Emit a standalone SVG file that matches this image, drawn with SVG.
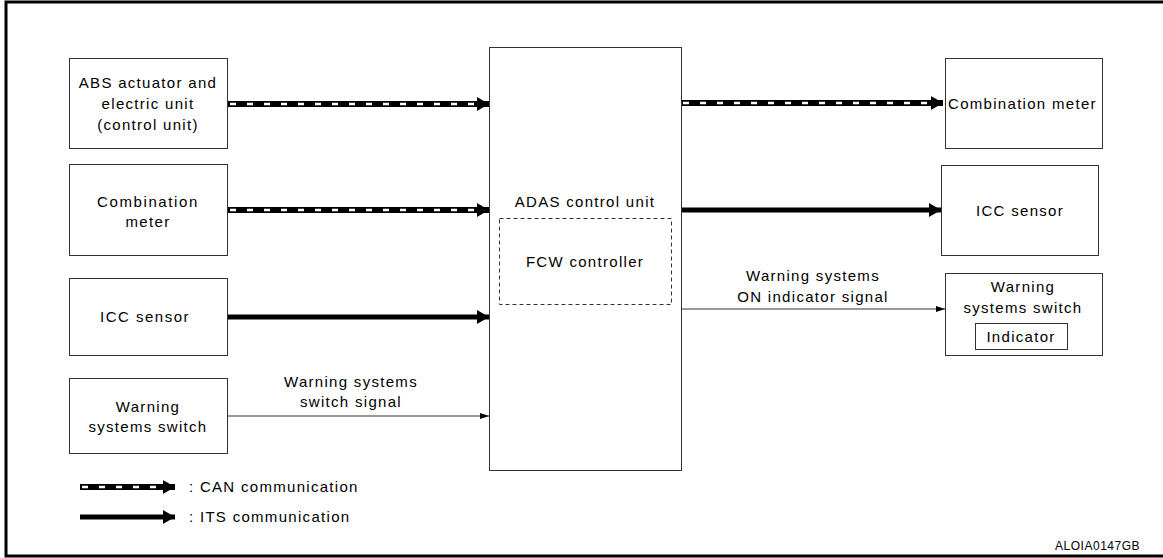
<svg xmlns="http://www.w3.org/2000/svg" width="1163" height="558" viewBox="0 0 1163 558">
<defs>
<style>
text{font-family:"Liberation Sans",Arial,sans-serif;font-size:15px;letter-spacing:1.3px;fill:#000}
.c{text-anchor:middle}
.box{fill:#fff;stroke:#333;stroke-width:1}
.can{stroke:#000;stroke-width:6;fill:none}
.canw{stroke:#fff;stroke-width:2.5;stroke-dasharray:6 11;fill:none}
.its{stroke:#000;stroke-width:5;fill:none}
.thin{stroke:#333;stroke-width:1;fill:none}
</style>
<marker id="big" viewBox="0 0 12 14" refX="12" refY="7" markerWidth="12" markerHeight="14" markerUnits="userSpaceOnUse" orient="auto">
<path d="M0,0 L12,7 L0,14 Z" fill="#000"/>
</marker>
<marker id="small" viewBox="0 0 9 6" refX="9" refY="3" markerWidth="9" markerHeight="6" markerUnits="userSpaceOnUse" orient="auto">
<path d="M0,0 L9,3 L0,6 Z" fill="#000"/>
</marker>
</defs>
<rect x="0" y="0" width="1163" height="558" fill="#fff"/>
<rect x="6" y="2" width="1170" height="554" fill="none" stroke="#000" stroke-width="3"/>

<g id="abs">
<rect class="box" x="69.5" y="58.5" width="158" height="90"/>
<text class="c" x="148" y="88">ABS actuator and</text>
<text class="c" x="148" y="109">electric unit</text>
<text class="c" x="148" y="130">(control unit)</text>
</g>
<g id="combo-left">
<rect class="box" x="69.5" y="164.5" width="158" height="91"/>
<text class="c" x="148" y="207" style="letter-spacing:1.6px">Combination</text>
<text class="c" x="148" y="227">meter</text>
</g>
<g id="icc-left">
<rect class="box" x="69.5" y="278.5" width="158" height="77"/>
<text class="c" x="145" y="322" style="letter-spacing:1.5px">ICC sensor</text>
</g>
<g id="ws-left">
<rect class="box" x="69.5" y="378.5" width="158" height="75"/>
<text class="c" x="148" y="412">Warning</text>
<text class="c" x="148" y="432">systems switch</text>
</g>
<g id="adas">
<rect class="box" x="489.5" y="47.5" width="192" height="423"/>
<text class="c" x="585" y="207">ADAS control unit</text>
<rect x="499.5" y="218.5" width="172" height="86" fill="none" stroke="#333" stroke-width="1" stroke-dasharray="4 3"/>
<text class="c" x="585" y="267">FCW controller</text>
</g>
<g id="combo-right">
<rect class="box" x="945.5" y="58.5" width="157" height="90"/>
<text x="948" y="109">Combination meter</text>
</g>
<g id="icc-right">
<rect class="box" x="941.5" y="165.5" width="157" height="90"/>
<text class="c" x="1020" y="216">ICC sensor</text>
</g>
<g id="ws-right">
<rect class="box" x="945.5" y="273.5" width="157" height="82"/>
<text class="c" x="1023" y="292">Warning</text>
<text class="c" x="1023" y="313">systems switch</text>
<rect class="box" x="975.5" y="323.5" width="92" height="26"/>
<text class="c" x="1021" y="342">Indicator</text>
</g>

<g id="connectors">
<line class="can" x1="228" y1="104" x2="489" y2="104" marker-end="url(#big)"/>
<line class="canw" x1="230" y1="104" x2="476" y2="104"/>
<line class="can" x1="228" y1="210" x2="489" y2="210" marker-end="url(#big)"/>
<line class="canw" x1="230" y1="210" x2="476" y2="210"/>
<line class="its" x1="228" y1="317" x2="489" y2="317" marker-end="url(#big)"/>
<line class="thin" x1="228" y1="416" x2="489" y2="416" marker-end="url(#small)"/>
<text class="c" x="351" y="387">Warning systems</text>
<text class="c" x="351" y="407">switch signal</text>
<line class="can" x1="682" y1="103" x2="943" y2="103" marker-end="url(#big)"/>
<line class="canw" x1="683" y1="103" x2="930" y2="103"/>
<line class="its" x1="682" y1="210" x2="941" y2="210" marker-end="url(#big)"/>
<line class="thin" x1="682" y1="309" x2="945" y2="309" marker-end="url(#small)"/>
<text class="c" x="813" y="281">Warning systems</text>
<text class="c" x="813" y="302">ON indicator signal</text>
</g>

<g id="legend">
<line class="can" x1="80" y1="487" x2="175" y2="487" marker-end="url(#big)"/>
<line class="canw" x1="82" y1="487" x2="162" y2="487" stroke-dasharray="6 6"/>
<text x="189" y="492">: CAN communication</text>
<line class="its" x1="80" y1="517" x2="175" y2="517" marker-end="url(#big)"/>
<text x="189" y="522">: ITS communication</text>
</g>
<text x="1140" y="550" text-anchor="end" style="font-size:12px;letter-spacing:0.5px">ALOIA0147GB</text>
</svg>
